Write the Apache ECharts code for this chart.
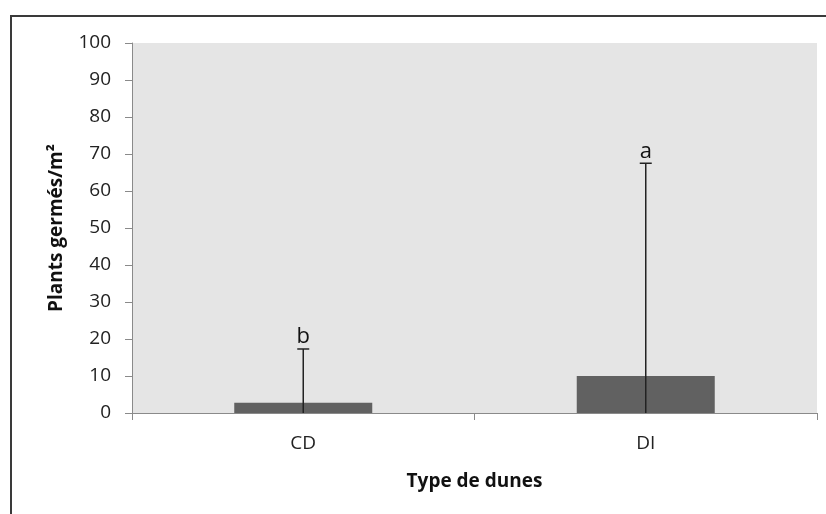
<!DOCTYPE html>
<html lang="fr">
<head>
    <meta charset="UTF-8">
    <title>Plants germés</title>
    <script src="https://cdn.jsdelivr.net/npm/echarts@6/dist/echarts.min.js"></script>
    <style>
        html, body { margin: 0; padding: 0; background: #fff; }
        #frame {
            position: absolute; left: 10px; top: 15px; right: 0; bottom: 0;
            border-left: 2px solid #3a3a3a; border-top: 2px solid #3a3a3a;
        }
        #main { position: absolute; left: 0; top: 0; width: 826px; height: 514px; }
    </style>
</head>
<body>
<div id="frame"></div>
<div id="main"></div>
<script type="text/javascript">
    // données
    var categories = ['CD', 'DI'];
    var means = [2.8, 10];
    var errTop = [17.3, 67.5];
    var letters = ['b', 'a'];

    var myChart = echarts.init(document.getElementById('main'));

    var font = '"Open Sans", sans-serif';

    myChart.setOption({
        animation: false,
        textStyle: { fontFamily: font },
        grid: {
            left: 132, right: 9, top: 43, bottom: 101,
            show: true, backgroundColor: '#e5e5e5', borderWidth: 0
        },
        xAxis: {
            type: 'category',
            data: categories,
            name: 'Type de dunes',
            nameLocation: 'middle',
            nameGap: 59,
            nameTextStyle: { fontSize: 19, fontWeight: 'bold', color: '#111', fontFamily: font },
            axisLine: { lineStyle: { color: '#8a8a8a', width: 1 } },
            axisTick: { show: true, length: 7, lineStyle: { color: '#8a8a8a' } },
            axisLabel: { fontSize: 19, color: '#222', margin: 21 }
        },
        yAxis: {
            type: 'value',
            min: 0, max: 100, interval: 10,
            name: 'Plants germés/m²',
            nameLocation: 'middle',
            nameGap: 66,
            nameTextStyle: { fontSize: 19, fontWeight: 'bold', color: '#111', fontFamily: font },
            axisLine: { show: true, lineStyle: { color: '#8a8a8a', width: 1 } },
            axisTick: { show: true, length: 7, lineStyle: { color: '#8a8a8a' } },
            axisLabel: { fontSize: 19, color: '#222', margin: 21 },
            splitLine: { show: false }
        },
        series: [
            {
                type: 'bar',
                data: means,
                barWidth: 138,
                itemStyle: { color: '#616161' }
            },
            {
                type: 'custom',
                data: errTop.map(function (v, i) { return [i, v]; }),
                z: 10,
                renderItem: function (params, api) {
                    var i = api.value(0);
                    var base = api.coord([i, 0]);
                    var top = api.coord([i, api.value(1)]);
                    var lw = { stroke: '#222', lineWidth: 1.5 };
                    return {
                        type: 'group',
                        children: [
                            { type: 'line', shape: { x1: base[0], y1: base[1], x2: top[0], y2: top[1] }, style: lw },
                            { type: 'line', shape: { x1: top[0] - 6, y1: top[1], x2: top[0] + 6, y2: top[1] }, style: lw },
                            {
                                type: 'text',
                                style: {
                                    x: top[0], y: top[1] - 1,
                                    text: letters[params.dataIndex],
                                    font: '22px ' + font,
                                    fill: '#111',
                                    align: 'center', verticalAlign: 'bottom'
                                }
                            }
                        ]
                    };
                }
            }
        ]
    });
</script>
</body>
</html>
